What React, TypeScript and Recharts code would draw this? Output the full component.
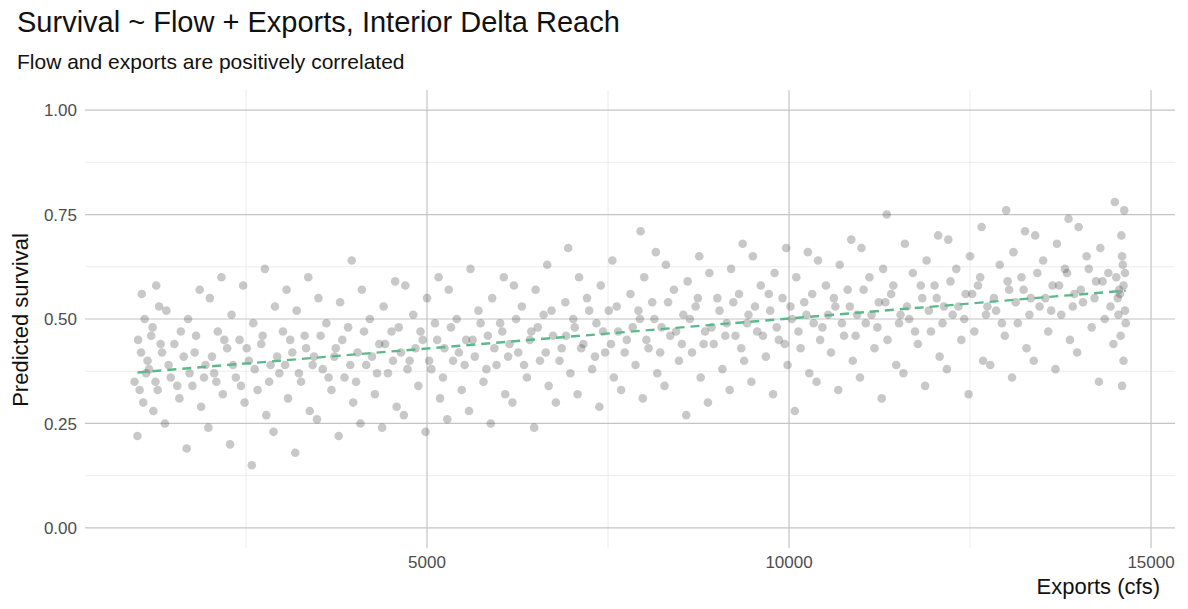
import { ReferenceLine, Scatter, ScatterChart, XAxis, YAxis } from "recharts";

// [exports (cfs), predicted survival]
const observations: [number, number][] = [
  [1000, 0.22], [1080, 0.30], [960, 0.35], [1140, 0.40], [1010, 0.45], [1100, 0.50], [1060, 0.56],
  [1220, 0.28], [1280, 0.33], [1160, 0.38], [1340, 0.42], [1210, 0.48], [1300, 0.53], [1260, 0.58],
  [1380, 0.25], [1580, 0.31], [1460, 0.36], [1640, 0.41], [1510, 0.44], [1400, 0.52],
  [1680, 0.19], [1880, 0.29], [1760, 0.34], [1940, 0.39], [1810, 0.46], [1700, 0.50], [1860, 0.57],
  [1980, 0.24], [2180, 0.32], [2060, 0.37], [2240, 0.43], [2110, 0.47], [2000, 0.55], [2160, 0.60],
  [2280, 0.20], [2480, 0.30], [2360, 0.36], [2540, 0.40], [2410, 0.45], [2300, 0.51], [2460, 0.58],
  [2580, 0.15], [2780, 0.27], [2660, 0.33], [2840, 0.39], [2710, 0.44], [2600, 0.49], [2760, 0.62],
  [2880, 0.23], [3080, 0.31], [2960, 0.37], [3140, 0.42], [3010, 0.47], [2900, 0.53], [3060, 0.57],
  [3180, 0.18], [3380, 0.28], [3260, 0.35], [3440, 0.41], [3310, 0.46], [3200, 0.52], [3360, 0.60],
  [3480, 0.26], [3680, 0.33], [3560, 0.38], [3740, 0.43], [3610, 0.49], [3500, 0.55],
  [3780, 0.22], [3980, 0.30], [3860, 0.36], [4040, 0.42], [3910, 0.48], [3800, 0.54], [3960, 0.64],
  [4080, 0.25], [4280, 0.32], [4160, 0.39], [4340, 0.44], [4210, 0.50], [4100, 0.57],
  [4380, 0.24], [4580, 0.29], [4460, 0.37], [4640, 0.42], [4510, 0.47], [4400, 0.53], [4560, 0.59],
  [4680, 0.27], [4880, 0.34], [4760, 0.40], [4940, 0.45], [4810, 0.51], [4700, 0.58],
  [4980, 0.23], [5180, 0.31], [5060, 0.38], [5240, 0.43], [5110, 0.49], [5000, 0.55], [5160, 0.60],
  [5280, 0.26], [5480, 0.33], [5360, 0.40], [5540, 0.45], [5410, 0.50], [5300, 0.57],
  [5580, 0.28], [5780, 0.35], [5660, 0.41], [5840, 0.46], [5710, 0.52], [5600, 0.62],
  [5880, 0.25], [6080, 0.32], [5960, 0.39], [6140, 0.44], [6010, 0.49], [5900, 0.55], [6060, 0.60],
  [6180, 0.30], [6380, 0.36], [6260, 0.42], [6440, 0.47], [6310, 0.53], [6200, 0.58],
  [6480, 0.24], [6680, 0.34], [6560, 0.40], [6740, 0.46], [6610, 0.51], [6500, 0.57], [6660, 0.63],
  [6780, 0.30], [6980, 0.37], [6860, 0.43], [7040, 0.48], [6910, 0.54], [6950, 0.67],
  [7080, 0.32], [7280, 0.38], [7160, 0.44], [7340, 0.49], [7210, 0.55], [7100, 0.60],
  [7380, 0.29], [7580, 0.36], [7460, 0.42], [7640, 0.47], [7510, 0.52], [7400, 0.58], [7560, 0.64],
  [7680, 0.33], [7880, 0.39], [7760, 0.45], [7940, 0.50], [7810, 0.56], [7950, 0.71],
  [7980, 0.31], [8180, 0.37], [8060, 0.43], [8240, 0.48], [8110, 0.54], [8000, 0.60], [8160, 0.66],
  [8280, 0.34], [8480, 0.40], [8360, 0.46], [8540, 0.51], [8410, 0.57], [8300, 0.63],
  [8580, 0.27], [8780, 0.36], [8660, 0.42], [8840, 0.47], [8710, 0.53], [8600, 0.59], [8760, 0.65],
  [8880, 0.30], [9080, 0.38], [8960, 0.44], [9140, 0.49], [9010, 0.55], [8900, 0.61],
  [9180, 0.33], [9380, 0.40], [9260, 0.46], [9440, 0.51], [9310, 0.56], [9200, 0.62], [9360, 0.68],
  [9480, 0.35], [9680, 0.41], [9560, 0.47], [9740, 0.52], [9610, 0.58], [9500, 0.65],
  [9780, 0.32], [9980, 0.39], [9860, 0.45], [10040, 0.50], [9910, 0.55], [9800, 0.61], [9960, 0.67],
  [10080, 0.28], [10280, 0.37], [10160, 0.43], [10340, 0.49], [10210, 0.54], [10100, 0.60], [10260, 0.66],
  [10380, 0.35], [10580, 0.42], [10460, 0.48], [10640, 0.53], [10510, 0.58], [10400, 0.64],
  [10680, 0.33], [10880, 0.40], [10760, 0.46], [10940, 0.51], [10810, 0.57], [10700, 0.63], [10860, 0.69],
  [10980, 0.36], [11180, 0.43], [11060, 0.49], [11240, 0.54], [11110, 0.60], [11000, 0.67],
  [11280, 0.31], [11480, 0.39], [11360, 0.45], [11540, 0.51], [11410, 0.56], [11300, 0.62], [11350, 0.75],
  [11580, 0.37], [11780, 0.44], [11660, 0.50], [11840, 0.55], [11710, 0.61], [11600, 0.68],
  [11880, 0.34], [12080, 0.41], [11960, 0.47], [12140, 0.53], [12010, 0.58], [11900, 0.64], [12060, 0.70],
  [12180, 0.38], [12380, 0.45], [12260, 0.51], [12440, 0.56], [12310, 0.62], [12200, 0.69],
  [12480, 0.32], [12680, 0.40], [12560, 0.47], [12740, 0.53], [12610, 0.58], [12500, 0.65], [12660, 0.72],
  [12780, 0.39], [12980, 0.46], [12860, 0.52], [13040, 0.57], [12910, 0.63], [13000, 0.76],
  [13080, 0.36], [13280, 0.43], [13160, 0.49], [13340, 0.55], [13210, 0.60], [13100, 0.66], [13260, 0.71],
  [13380, 0.40], [13580, 0.47], [13460, 0.53], [13640, 0.58], [13510, 0.64], [13400, 0.70],
  [13680, 0.38], [13880, 0.45], [13760, 0.51], [13940, 0.56], [13810, 0.62], [13700, 0.68], [13860, 0.74],
  [13980, 0.42], [14180, 0.48], [14060, 0.54], [14240, 0.59], [14110, 0.65], [14000, 0.72],
  [14280, 0.35], [14480, 0.44], [14360, 0.50], [14540, 0.55], [14410, 0.61], [14300, 0.67], [14500, 0.78],
  [14600, 0.34], [14620, 0.40], [14580, 0.46], [14640, 0.52], [14560, 0.57], [14610, 0.63], [14590, 0.70], [14630, 0.76],
];

// dense core of the cloud, close to the fit
const coreObservations: [number, number][] = [
  [1030, 0.33], [1120, 0.37], [1050, 0.42], [1190, 0.46], [1250, 0.35], [1320, 0.44], [1430, 0.39], [1550, 0.34],
  [1600, 0.47], [1720, 0.37], [1790, 0.42], [1920, 0.36], [2030, 0.41], [2090, 0.35], [2200, 0.45], [2320, 0.39],
  [2430, 0.34], [2510, 0.43], [2620, 0.38], [2730, 0.46], [2820, 0.35], [2930, 0.41], [3040, 0.39], [3110, 0.45],
  [3230, 0.37], [3330, 0.43], [3420, 0.39], [3530, 0.46], [3640, 0.36], [3720, 0.41], [3830, 0.45], [3940, 0.39],
  [4020, 0.35], [4130, 0.47], [4240, 0.41], [4310, 0.37], [4420, 0.44], [4530, 0.40], [4610, 0.48], [4730, 0.38],
  [4840, 0.43], [4910, 0.47], [5030, 0.40], [5140, 0.45], [5220, 0.36], [5330, 0.48], [5440, 0.42], [5520, 0.39],
  [5630, 0.45], [5740, 0.49], [5820, 0.38], [5930, 0.43], [6040, 0.47], [6120, 0.41], [6230, 0.50], [6340, 0.39],
  [6420, 0.45], [6530, 0.48], [6640, 0.42], [6720, 0.52], [6830, 0.40], [6920, 0.46], [7020, 0.50], [7130, 0.43],
  [7240, 0.52], [7320, 0.41], [7430, 0.47], [7540, 0.44], [7620, 0.53], [7730, 0.42], [7840, 0.48], [7920, 0.52],
  [8030, 0.45], [8140, 0.50], [8220, 0.42], [8330, 0.54], [8440, 0.47], [8520, 0.44], [8630, 0.50], [8740, 0.55],
  [8820, 0.44], [8930, 0.48], [9040, 0.52], [9120, 0.46], [9230, 0.54], [9340, 0.43], [9420, 0.49], [9530, 0.53],
  [9640, 0.46], [9720, 0.56], [9830, 0.48], [9940, 0.44], [10020, 0.53], [10130, 0.47], [10240, 0.51], [10320, 0.56],
  [10430, 0.45], [10540, 0.51], [10620, 0.55], [10730, 0.49], [10840, 0.53], [10920, 0.46], [11030, 0.57], [11140, 0.51],
  [11220, 0.48], [11330, 0.54], [11440, 0.58], [11520, 0.49], [11630, 0.53], [11740, 0.47], [11820, 0.58], [11930, 0.52],
  [12040, 0.55], [12120, 0.49], [12230, 0.59], [12340, 0.53], [12420, 0.50], [12530, 0.56], [12640, 0.60], [12720, 0.51],
  [12830, 0.55], [12940, 0.49], [13020, 0.59], [13130, 0.54], [13240, 0.57], [13320, 0.51], [13430, 0.61], [13540, 0.55],
  [13620, 0.52], [13730, 0.58], [13840, 0.61], [13920, 0.53], [14030, 0.57], [14140, 0.62], [14220, 0.55], [14330, 0.59],
  [14440, 0.53], [14520, 0.60], [14570, 0.56], [14620, 0.58], [14650, 0.49], [14600, 0.65], [14550, 0.51], [14640, 0.61],
];

// fitted trend (dashed green)
const trend = [
  { exports: 1000, survival: 0.372 },
  { exports: 14650, survival: 0.568 },
];

const majorX = [5000, 10000, 15000];
const minorX = [2500, 7500, 12500];
const majorY = [0, 0.25, 0.5, 0.75, 1];
const minorY = [0.125, 0.375, 0.625, 0.875];

const points = [...observations, ...coreObservations].map(([exports, survival]) => ({ exports, survival }));
const font = "'Liberation Sans', Arial, sans-serif";

export default function App() {
  return (
    <div style={{ position: "absolute", left: 0, top: 0, width: 1188, height: 609, background: "#fff", fontFamily: font }}>
      <div style={{ position: "absolute", left: 17, top: 6, fontSize: 29, color: "#111" }}>Survival ~ Flow + Exports, Interior Delta Reach</div>
      <div style={{ position: "absolute", left: 17, top: 50, fontSize: 21, color: "#111" }}>Flow and exports are positively correlated</div>
      <div style={{ position: "absolute", left: 6, top: 320, transform: "translate(0,-50%) rotate(-90deg)", transformOrigin: "center", fontSize: 22, color: "#111", whiteSpace: "nowrap", width: 30, display: "flex", justifyContent: "center" }}>
        <span>Predicted survival</span>
      </div>
      <div style={{ position: "absolute", right: 28, top: 574, fontSize: 22, color: "#111" }}>Exports (cfs)</div>
      <ScatterChart width={1188} height={609} margin={{ top: 90, right: 13, bottom: 0, left: 0 }} style={{ position: "absolute", left: 0, top: 0 }}>
        {minorX.map((v) => <ReferenceLine key={"mx" + v} x={v} stroke="#ececec" strokeWidth={1} />)}
        {minorY.map((v) => <ReferenceLine key={"my" + v} y={v} stroke="#ececec" strokeWidth={1} />)}
        {majorX.map((v) => <ReferenceLine key={"MX" + v} x={v} stroke="#c4c4c4" strokeWidth={1.2} />)}
        {majorY.map((v) => <ReferenceLine key={"MY" + v} y={v} stroke="#c4c4c4" strokeWidth={1.2} />)}
        <XAxis type="number" dataKey="exports" domain={[276, 15331]} ticks={majorX} axisLine={false} tickLine={false} height={61}
          tick={{ fill: "#4d4d4d", fontSize: 17, fontFamily: font }} allowDataOverflow />
        <YAxis type="number" dataKey="survival" domain={[-0.048, 1.048]} ticks={majorY} axisLine={false} tickLine={false} width={85}
          tickFormatter={(v: number) => v.toFixed(2)} tick={{ fill: "#4d4d4d", fontSize: 17, fontFamily: font }} allowDataOverflow />
        <Scatter data={points} shape={(p: any) => <circle cx={p.cx} cy={p.cy} r={4.3} fill="#4a4a4a" fillOpacity={0.3} />} isAnimationActive={false} />
        <Scatter data={trend} line={{ stroke: "#5cba8a", strokeWidth: 2.4, strokeDasharray: "9 6" }} shape={() => null} isAnimationActive={false} />
      </ScatterChart>
    </div>
  );
}
